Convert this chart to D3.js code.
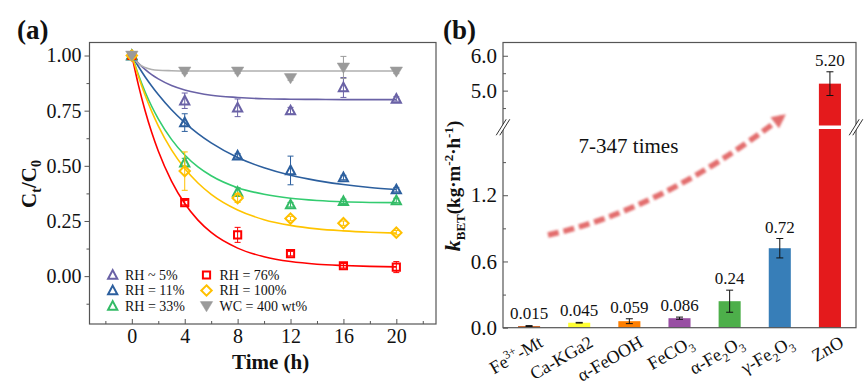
<!DOCTYPE html>
<html><head><meta charset="utf-8">
<script src="https://cdn.jsdelivr.net/npm/d3@7"></script>
<style>
body{margin:0;background:#fff}
svg{display:block}
svg text{font-family:"Liberation Serif","Times New Roman",Tinos,Times,"DejaVu Serif","Noto Serif",serif !important;fill:#111}
</style>
</head><body>
<svg id="c" width="867" height="392" font-family="Liberation Serif, Times New Roman, DejaVu Serif, serif"></svg>
<script>
// ---------------- DATA: panel (a) ----------------
const times = [0, 4, 8, 12, 16, 20];
const seriesNames = ["RH ~ 5%", "RH = 11%", "RH = 33%", "RH = 76%", "RH = 100%", "WC = 400 wt%"];
const rh5    = [1.0, 0.795, 0.763, 0.750, 0.855, 0.803];
const rh5Err = [0, 0.035, 0.04, 0.015, 0.045, 0.01];
const rh11    = [1.0, 0.696, 0.545, 0.479, 0.447, 0.392];
const rh11Err = [0, 0.04, 0.01, 0.065, 0.01, 0.01];
const rh33    = [1.0, 0.514, 0.381, 0.324, 0.339, 0.343];
const rh33Err = [0, 0.02, 0.02, 0.01, 0.01, 0.01];
const rh76    = [1.0, 0.333, 0.187, 0.102, 0.047, 0.041];
const rh76Err = [0, 0.01, 0.034, 0.01, 0.01, 0.025];
const rh100    = [1.0, 0.476, 0.354, 0.261, 0.240, 0.197];
const rh100Err = [0, 0.087, 0.02, 0.01, 0.01, 0.01];
const wc400    = [1.0, 0.928, 0.928, 0.898, 0.946, 0.928];
const wc400Err = [0, 0.01, 0.01, 0.01, 0.05, 0.01];
// fitted curves
const fitTimes = [0, 0.5, 1, 1.5, 2, 3, 4, 5, 6, 8, 10, 12, 14, 16, 18, 20];
const rh5Fit   = [1.0, 0.965, 0.937, 0.913, 0.894, 0.864, 0.844, 0.830, 0.820, 0.810, 0.804, 0.802, 0.801, 0.800, 0.800, 0.800];
const rh11Fit  = [1.0, 0.950, 0.904, 0.862, 0.823, 0.754, 0.696, 0.646, 0.604, 0.538, 0.491, 0.457, 0.433, 0.415, 0.402, 0.393];
const rh33Fit  = [1.0, 0.913, 0.836, 0.770, 0.713, 0.620, 0.549, 0.495, 0.455, 0.401, 0.371, 0.353, 0.343, 0.337, 0.334, 0.333];
const rh76Fit  = [1.0, 0.866, 0.751, 0.652, 0.567, 0.431, 0.329, 0.254, 0.198, 0.127, 0.088, 0.066, 0.054, 0.048, 0.044, 0.042];
const rh100Fit = [1.0, 0.905, 0.821, 0.747, 0.681, 0.572, 0.488, 0.422, 0.371, 0.300, 0.256, 0.230, 0.214, 0.205, 0.199, 0.195];
const wc400Fit = [1.0, 0.963, 0.946, 0.937, 0.933, 0.931, 0.930, 0.930, 0.930, 0.930, 0.930, 0.930, 0.930, 0.930, 0.930, 0.930];
const xTicksA = [0, 4, 8, 12, 16, 20];
const yTicksA = [0, 0.25, 0.5, 0.75, 1.0];

// ---------------- DATA: panel (b) ----------------
const kCats   = ["Fe^{3+}-Mt", "Ca-KGa2", "α-FeOOH", "FeCO_{3}", "α-Fe_{2}O_{3}", "γ-Fe_{2}O_{3}", "ZnO"];
const kValues = [0.015, 0.045, 0.059, 0.086, 0.24, 0.72, 5.20];
const kErr    = [0.004, 0.003, 0.022, 0.01, 0.10, 0.088, 0.34];
const kLabels = ["0.015", "0.045", "0.059", "0.086", "0.24", "0.72", "5.20"];
const yTicksLow  = [0.0, 0.6, 1.2];
const yTicksHigh = [5.0, 6.0];

// ---------------- STYLE ----------------
const FONT = '"Liberation Serif","Times New Roman",Tinos,Times,"DejaVu Serif","Noto Serif",serif';
const seriesColors = ["#6a62a6", "#2c5f9e", "#33bb66", "#ff0000", "#ffc000", "#9a9a9a"];
const fitColors    = ["#6a62a6", "#2c5f9e", "#33cc70", "#ff0000", "#ffc400", "#b0b0b0"];
const seriesShapes = ["triUp", "triUp", "triUp", "square", "diamond", "triDown"];
const barColors = ["#c8642a", "#ffff33", "#ff7f00", "#984ea3", "#4daf4a", "#377eb8", "#e41a1c"];

const svg = d3.select("#c");
const frameColor = "#555";

function richText(sel, str, subSize, subShift, supShift) {
  const re = /(_\{[^}]*\}|\^\{[^}]*\})/g;
  const parts = str.split(re).filter(s => s.length);
  let shift = 0;
  parts.forEach(p => {
    let t, d = 0, small = false;
    if (p.startsWith("_{")) { t = p.slice(2, -1); d = subShift; small = true; }
    else if (p.startsWith("^{")) { t = p.slice(2, -1); d = -supShift; small = true; }
    else { t = p; d = 0; }
    const ts = sel.append("tspan").attr("dy", d - shift).text(t);
    if (small) ts.attr("font-size", subSize);
    shift = d;
  });
}

function markerPath(shape) {
  switch (shape) {
    case "triUp": return "M0,-4.9 L4.6,3.7 L-4.6,3.7 Z";
    case "square": return "M-3.6,-3.6 H3.6 V3.6 H-3.6 Z";
    case "diamond": return "M0,-5.2 L5.2,0 L0,5.2 L-5.2,0 Z";
    case "triDown": return "M-6.2,-4.4 L6.2,-4.4 L0,5.8 Z";
  }
}
function drawMarker(g, shape, color, x, y) {
  const filled = shape === "triDown";
  g.append("path").attr("d", markerPath(shape))
    .attr("transform", `translate(${x},${y})`)
    .attr("fill", filled ? color : "none")
    .attr("stroke", color).attr("stroke-width", filled ? 0.5 : 2)
    .attr("stroke-linejoin", "miter");
}

// ================= PANEL (a) =================
const A = {l: 89.5, r: 436, t: 42.5, b: 324};
const xA = d3.scaleLinear().domain([-3.2, 23]).range([A.l, A.r]);
const yA = d3.scaleLinear().domain([-0.217, 1.059]).range([A.b, A.t]);
const gA = svg.append("g");

const axL = gA.append("g").attr("transform", `translate(${A.l},0)`)
  .call(d3.axisLeft(yA).tickValues(yTicksA).tickFormat(d3.format(".2f")).tickSize(5).tickPadding(3));
const axLm = gA.append("g").attr("transform", `translate(${A.l},0)`)
  .call(d3.axisLeft(yA).tickValues([-0.125, 0.125, 0.375, 0.625, 0.875]).tickFormat("").tickSize(3));
const axB = gA.append("g").attr("transform", `translate(0,${A.b})`)
  .call(d3.axisBottom(xA).tickValues(xTicksA).tickFormat(d3.format("d")).tickSize(-5).tickPadding(5));
const axBm = gA.append("g").attr("transform", `translate(0,${A.b})`)
  .call(d3.axisBottom(xA).tickValues([-2, 2, 6, 10, 14, 18, 22]).tickFormat("").tickSize(-3));
[axL, axLm, axB, axBm].forEach(a => {
  a.attr("font-family", FONT);
  a.select(".domain").remove();
  a.selectAll("line").attr("stroke", frameColor);
  a.selectAll("text").attr("font-size", 20).attr("font-family", FONT).attr("fill", "#111");
});
gA.append("rect").attr("x", A.l).attr("y", A.t).attr("width", A.r - A.l).attr("height", A.b - A.t)
  .attr("fill", "none").attr("stroke", frameColor).attr("stroke-width", 1.2);

const fits = [rh5Fit, rh11Fit, rh33Fit, rh76Fit, rh100Fit, wc400Fit];
const line = d3.line().x((d, i) => xA(fitTimes[i])).y(d => yA(d)).curve(d3.curveMonotoneX);
fits.forEach((f, i) => {
  gA.append("path").attr("d", line(f)).attr("fill", "none")
    .attr("stroke", fitColors[i]).attr("stroke-width", 1.6);
});

const vals = [rh5, rh11, rh33, rh76, rh100, wc400];
const errs = [rh5Err, rh11Err, rh33Err, rh76Err, rh100Err, wc400Err];
vals.forEach((v, si) => {
  const g = gA.append("g");
  v.forEach((y, i) => {
    const e = errs[si][i];
    if (e > 0) {
      const x = xA(times[i]);
      g.append("line").attr("x1", x).attr("x2", x).attr("y1", yA(y + e)).attr("y2", yA(y - e))
        .attr("stroke", seriesColors[si]).attr("stroke-width", 1);
      [y + e, y - e].forEach(c => g.append("line").attr("x1", x - 3).attr("x2", x + 3)
        .attr("y1", yA(c)).attr("y2", yA(c)).attr("stroke", seriesColors[si]).attr("stroke-width", 1));
    }
  });
  v.forEach((y, i) => drawMarker(g, seriesShapes[si], seriesColors[si], xA(times[i]), yA(y)));
});

const legRows = [275, 290.5, 306];
const legCols = [{s: 112.7, t: 125}, {s: 206.5, t: 219.5}];
seriesNames.forEach((n, i) => {
  const c = legCols[Math.floor(i / 3)], r = legRows[i % 3];
  drawMarker(gA, seriesShapes[i], seriesColors[i], c.s, r);
  gA.append("text").attr("x", c.t).attr("y", r).attr("dy", "0.35em").attr("font-size", 14).text(n);
});

gA.append("text").attr("x", xA(10.5)).attr("y", 369).attr("text-anchor", "middle")
  .attr("font-size", 21).attr("font-weight", "bold").text("Time (h)");
const yl = gA.append("text").attr("transform", "translate(36,184) rotate(-90)").attr("text-anchor", "middle")
  .attr("font-size", 21).attr("font-weight", "bold");
richText(yl, "C_{t}/C_{0}", 14, 5, 7);
gA.append("text").attr("x", 17).attr("y", 39).attr("font-size", 27).attr("font-weight", "bold").text("(a)");

// ================= PANEL (b) =================
const B = {l: 503, r: 856, t: 42.5, b: 327.7};
const lowMax = 1.8, highMin = 4.0;
const yLow = d3.scaleLinear().domain([0, lowMax]).range([B.b, 129]);
const yHigh = d3.scaleLinear().domain([highMin, 6.38]).range([125.5, B.t]);
const yB = v => v <= lowMax ? yLow(v) : yHigh(v);
const xB = d3.scaleBand().domain(kCats).range([B.l, B.r]).paddingInner(0.56).paddingOuter(0.3);
const gB = svg.append("g");

const axLow = gB.append("g").attr("transform", `translate(${B.l},0)`)
  .call(d3.axisLeft(yLow).tickValues(yTicksLow).tickFormat(d3.format(".1f")).tickSize(-5).tickPadding(6));
const axLowM = gB.append("g").attr("transform", `translate(${B.l},0)`)
  .call(d3.axisLeft(yLow).tickValues([0.3, 0.9, 1.5]).tickFormat("").tickSize(-3));
const axHigh = gB.append("g").attr("transform", `translate(${B.l},0)`)
  .call(d3.axisLeft(yHigh).tickValues(yTicksHigh).tickFormat(d3.format(".1f")).tickSize(-5).tickPadding(6));
const axHighM = gB.append("g").attr("transform", `translate(${B.l},0)`)
  .call(d3.axisLeft(yHigh).tickValues([4.5, 5.5]).tickFormat("").tickSize(-3));
[axLow, axLowM, axHigh, axHighM].forEach(a => {
  a.attr("font-family", FONT);
  a.select(".domain").remove();
  a.selectAll("line").attr("stroke", frameColor);
  a.selectAll("text").attr("font-size", 21).attr("font-family", FONT).attr("fill", "#111");
});

kValues.forEach((v, i) => {
  const x = xB(kCats[i]), w = xB.bandwidth();
  if (v <= lowMax) {
    gB.append("rect").attr("x", x).attr("y", yLow(v)).attr("width", w).attr("height", yLow(0) - yLow(v)).attr("fill", barColors[i]);
  } else {
    gB.append("rect").attr("x", x).attr("y", yLow(lowMax)).attr("width", w).attr("height", yLow(0) - yLow(lowMax)).attr("fill", barColors[i]);
    gB.append("rect").attr("x", x).attr("y", yHigh(v)).attr("width", w).attr("height", yHigh(highMin) - yHigh(v)).attr("fill", barColors[i]);
  }
  const cx = x + w / 2, e = kErr[i];
  gB.append("line").attr("x1", cx).attr("x2", cx).attr("y1", yB(v + e)).attr("y2", yB(v - e)).attr("stroke", "#111").attr("stroke-width", 1);
  [v + e, v - e].forEach(c => gB.append("line").attr("x1", cx - 3.5).attr("x2", cx + 3.5)
    .attr("y1", yB(c)).attr("y2", yB(c)).attr("stroke", "#111").attr("stroke-width", 1));
  gB.append("text").attr("x", cx).attr("y", Math.min(yB(v + e) - 6, yLow(0) - 9.2))
    .attr("text-anchor", "middle").attr("font-size", 17).text(kLabels[i]);
  const t = gB.append("text").attr("text-anchor", "end")
    .attr("transform", `translate(${cx + 15},${B.b + 18}) rotate(-30)`).attr("font-size", 18);
  richText(t, kCats[i], 12, 5, 7);
});

gB.append("rect").attr("x", B.l).attr("y", B.t).attr("width", B.r - B.l).attr("height", B.b - B.t)
  .attr("fill", "none").attr("stroke", frameColor).attr("stroke-width", 1.2);

const breakY = (125.5 + 129) / 2;
[B.l, B.r].forEach(bx => {
  gB.append("path").attr("d", `M${bx - 5 - 1.8},${breakY + 8} L${bx + 5 - 1.8},${breakY - 8} L${bx + 5 + 1.8},${breakY - 8} L${bx - 5 + 1.8},${breakY + 8} Z`)
    .attr("fill", "#fff");
  [-1.8, 1.8].forEach(o => gB.append("line")
    .attr("x1", bx - 5 + o).attr("y1", breakY + 8).attr("x2", bx + 5 + o).attr("y2", breakY - 8)
    .attr("stroke", "#333").attr("stroke-width", 1));
});

const ylb = gB.append("text").attr("transform", "translate(460,186) rotate(-90)").attr("text-anchor", "middle")
  .attr("font-size", 19).attr("font-weight", "bold");
ylb.append("tspan").attr("font-style", "italic").attr("font-size", 22).text("k");
ylb.append("tspan").attr("font-size", 13).attr("dy", 5).text("BET");
ylb.append("tspan").attr("dy", -5).text("(kg·m");
ylb.append("tspan").attr("font-size", 13).attr("dy", -7).text("-2");
ylb.append("tspan").attr("dy", 7).text("·h");
ylb.append("tspan").attr("font-size", 13).attr("dy", -7).text("-1");
ylb.append("tspan").attr("dy", 7).text(")");

gB.append("text").attr("x", 443).attr("y", 39).attr("font-size", 27).attr("font-weight", "bold").text("(b)");

const W = B.r - B.l, H = B.b - B.t;
const P = (fx, fy) => [B.l + fx * W, B.t + fy * H];
const p0 = P(0.1275, 0.675), pc = P(0.445, 0.589), p2 = P(0.79, 0.262);
const defs = svg.append("defs");
defs.append("filter").attr("id", "blur").attr("x", "-20%").attr("y", "-20%").attr("width", "140%").attr("height", "140%")
  .append("feGaussianBlur").attr("stdDeviation", 1.1);
const ga = gB.append("g").attr("filter", "url(#blur)").attr("opacity", 0.8);
ga.append("path").attr("d", `M${p0[0]},${p0[1]} Q${pc[0]},${pc[1]} ${p2[0]},${p2[1]}`)
  .attr("fill", "none").attr("stroke", "#dc4848").attr("stroke-width", 5.5).attr("stroke-dasharray", "11,5");
const ang = Math.atan2(p2[1] - pc[1], p2[0] - pc[0]);
const tip = [p2[0] + 5 * Math.cos(ang), p2[1] + 5 * Math.sin(ang)];
const bl = 14, bw = 7;
const bx0 = tip[0] - bl * Math.cos(ang), by0 = tip[1] - bl * Math.sin(ang);
ga.append("path").attr("d", `M${tip[0]},${tip[1]} L${bx0 + bw * Math.sin(ang)},${by0 - bw * Math.cos(ang)} L${bx0 - bw * Math.sin(ang)},${by0 + bw * Math.cos(ang)} Z`)
  .attr("fill", "#dc4848");
const tp = P(0.3555, 0.386);
gB.append("text").attr("x", tp[0]).attr("y", tp[1]).attr("text-anchor", "middle").attr("font-size", 21).text("7-347 times");
</script>
</body></html>
